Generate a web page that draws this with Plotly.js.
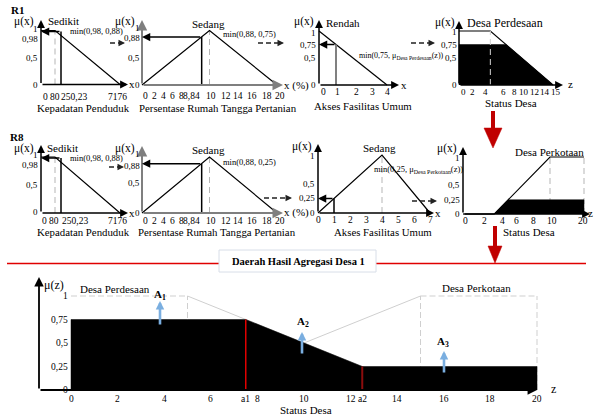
<!DOCTYPE html>
<html>
<head>
<meta charset="utf-8">
<script src="https://cdn.plot.ly/plotly-3.0.1.min.js"></script>
<style>
html,body{margin:0;padding:0;background:#fff;}
#chart{width:594px;height:416px;}
</style>
</head>
<body>
<div id="chart"></div>
<script>
// ======================= DATA =======================
// Kepadatan Penduduk — "Sedikit" (R1 and R8)
const kepTicks = [0, 80, 250.23, 7176];
const kepTickText = ['0', '80', '250,23', '7176'];
const sedikitX = [0, 80, 7176];
const sedikitY = [1, 1, 0];
const kepInput = 250.23;
const kepMu = 0.98;
const kepMuTicks = [0, 0.5, 0.98, 1];
const kepMuText = ['0', '0,5', '0,98', '1'];

// Persentase Rumah Tangga Pertanian — "Sedang" (R1 and R8)
const prtTicks = [0, 2, 4, 6, 8, 8.84, 10, 12, 14, 16, 18, 20];
const prtTickText = ['0', '2', '4', '6', '8', '8,84', '10', '12', '14', '16', '18', '20'];
const sedangPrtX = [0, 10, 20];
const sedangPrtY = [0, 1, 0];
const prtInput = 8.84;
const prtMu = 0.88;
const prtMuTicks = [0, 0.5, 0.88, 1];
const prtMuText = ['0', '0,5', '0,88', '1'];

// Akses Fasilitas Umum — R1 "Rendah"
const aksesR1Ticks = [0, 1, 2, 3, 4];
const rendahX = [0, 4];
const rendahY = [1, 0];
const aksesInput = 1;
const rendahMu = 0.75;
const rendahMuTicks = [0, 0.5, 0.75, 1];
const rendahMuText = ['0', '0,5', '0,75', '1'];

// Akses Fasilitas Umum — R8 "Sedang"
const aksesR8Ticks = [0, 1, 2, 3, 4, 5, 6, 7];
const sedangAksesX = [0, 4, 7];
const sedangAksesY = [0, 1, 0];
const sedangAksesMu = 0.25;
const sedangMuTicks = [0, 0.25, 0.5, 1];
const sedangMuText = ['0', '0,25', '0,5', '1'];

// Status Desa — R1 output "Desa Perdesaan"
const statusR1Ticks = [0, 2, 4, 6, 8, 10, 12, 14, 15];
const perdesaanX = [0, 5, 15];
const perdesaanY = [1, 1, 0];
const alphaR1 = 0.75;
const perdesaanMuTicks = [0, 0.5, 0.75, 1];
const perdesaanMuText = ['0', '0,5', '0,75', '1'];

// Status Desa — R8 output "Desa Perkotaan"
const statusR8Ticks = [0, 2, 4, 6, 8, 10, 20];
const perkotaanX = [0, 3.6, 10, 20];
const perkotaanY = [0, 0, 1, 1];
const alphaR8 = 0.25;
const perkotaanMuTicks = [0, 0.25, 0.5, 1];
const perkotaanMuText = ['0', '0,25', '0,5', '1'];

// Daerah Hasil Agregasi Desa 1
const aggPerdesaanX = [0, 5, 15, 20];
const aggPerdesaanY = [1, 1, 0, 0];
const aggPerkotaanX = [0, 5, 15, 20];
const aggPerkotaanY = [0, 0, 1, 1];
const aggTicks = [0, 2, 4, 6, 8, 10, 12, 14, 16, 18, 20];
const aggMuTicks = [0, 0.25, 0.5, 0.75, 1];
const aggMuText = ['0', '0,25', '0,5', '0,75', '1'];

// ======================= HELPERS =======================
const W = 594, H = 416;
const FONT = 'Liberation Serif, Times New Roman, Times, serif';
const traces = [], ann = [], shapes = [];
const layout = {
  width: W, height: H, autosize: false,
  margin: {l: 0, r: 0, t: 0, b: 0, pad: 0},
  paper_bgcolor: '#fff', plot_bgcolor: 'rgba(0,0,0,0)',
  showlegend: false, font: {family: FONT, color: '#000'}
};

// schematic (piecewise) axis used where the original drawing is not to scale
function pwScale(knots, slots) {
  return v => {
    for (let i = 0; i < knots.length - 1; i++) {
      if (v <= knots[i + 1] || i === knots.length - 2) {
        const t = (v - knots[i]) / (knots[i + 1] - knots[i]);
        return slots[i] + t * (slots[i + 1] - slots[i]);
      }
    }
  };
}
function pl(xs, ys, z) {
  if (z <= xs[0]) return ys[0];
  for (let i = 0; i < xs.length - 1; i++)
    if (z <= xs[i + 1]) return ys[i] + (z - xs[i]) / (xs[i + 1] - xs[i]) * (ys[i + 1] - ys[i]);
  return ys[ys.length - 1];
}
function crossings(xs, ys, a) {
  const out = [];
  for (let i = 0; i < xs.length - 1; i++) {
    const d0 = ys[i] - a, d1 = ys[i + 1] - a;
    if ((d0 < 0 && d1 > 0) || (d0 > 0 && d1 < 0)) out.push(xs[i] + d0 / (d0 - d1) * (xs[i + 1] - xs[i]));
  }
  return out;
}
// region of max_i min(f_i, alpha_i)
function aggregate(fns, z0, z1) {
  let c = [z0, z1];
  fns.forEach(f => { c = c.concat(f.xs, crossings(f.xs, f.ys, f.a)); });
  c = [...new Set(c.filter(z => z >= z0 && z <= z1))].sort((a, b) => a - b);
  const h = (f, z) => Math.min(pl(f.xs, f.ys, z), f.a);
  const extra = [];
  for (let k = 0; k < c.length - 1; k++)
    for (let i = 0; i < fns.length; i++)
      for (let j = i + 1; j < fns.length; j++) {
        const d0 = h(fns[i], c[k]) - h(fns[j], c[k]);
        const d1 = h(fns[i], c[k + 1]) - h(fns[j], c[k + 1]);
        if ((d0 < 0 && d1 > 0) || (d0 > 0 && d1 < 0)) extra.push(c[k] + d0 / (d0 - d1) * (c[k + 1] - c[k]));
      }
  c = c.concat(extra).sort((a, b) => a - b);
  const g = z => Math.max(...fns.map(f => h(f, z)));
  return {x: [z0, ...c, z1], y: [0, ...c.map(g), 0], g};
}

const panels = [];
function arrow(p, xh, yh, xt, yt, o = {}) {
  ann.push({xref: p.xa, yref: p.ya, axref: p.xa, ayref: p.ya, x: xh, y: yh, ax: xt, ay: yt,
    text: '', showarrow: true, arrowhead: 2, arrowsize: o.size || 1, arrowwidth: o.width || 1.5,
    arrowcolor: o.color || '#000', standoff: 0});
}
function panel(o) {
  const i = panels.length + 1;
  const suf = i === 1 ? '' : String(i);
  o.xa = 'x' + suf; o.ya = 'y' + suf;
  o.sx = o.sx || (v => v);
  o.X = px => (px - o.ox) / o.kx;
  o.Y = py => (o.oy - py) / o.ky;
  const [bx0, bx1, by0, by1] = o.box;
  layout['xaxis' + suf] = {domain: [bx0 / W, bx1 / W], range: [o.X(bx0), o.X(bx1)], visible: false, fixedrange: true};
  layout['yaxis' + suf] = {domain: [1 - by1 / H, 1 - by0 / H], range: [o.Y(by1), o.Y(by0)], visible: false, fixedrange: true};
  panels.push(o);
  const ax0 = o.yAxisPx !== undefined ? o.X(o.yAxisPx) : 0;
  const col = o.axisColor || '#000', aw = o.axisW || 1.5;
  arrow(o, o.X(o.xEnd), 0, ax0, 0, {color: col, width: aw, size: 1.05});
  arrow(o, ax0, o.Y(o.yTop), ax0, 0, {color: col, width: aw, size: 1.05});
  return o;
}
function line(p, xs, ys, o = {}) {
  traces.push({type: 'scatter', mode: 'lines', x: xs.map(p.sx), y: ys, xaxis: p.xa, yaxis: p.ya,
    line: {color: o.color || '#000', width: o.width || 1.2, dash: o.dash || 'solid'},
    hoverinfo: 'skip', showlegend: false});
}
function area(p, poly) {
  traces.push({type: 'scatter', mode: 'lines', x: poly.x.map(p.sx), y: poly.y, xaxis: p.xa, yaxis: p.ya,
    fill: 'toself', fillcolor: '#000', line: {color: '#000', width: 0.5},
    hoverinfo: 'skip', showlegend: false});
}
function xTickLabels(p, vals, texts, ypx, shifts, size) {
  vals.forEach((v, i) => ann.push({xref: p.xa, yref: p.ya, x: p.sx(v), y: 0,
    xshift: shifts ? shifts[i] : 0, yshift: -(ypx - p.oy), text: texts[i], showarrow: false,
    font: {family: FONT, size: size || 9.5, color: '#000'}, xanchor: 'center', yanchor: 'middle', borderpad: 0}));
}
function yTickLabels(p, vals, texts, rightPx, yshifts, size) {
  vals.forEach((v, i) => ann.push({xref: p.xa, yref: p.ya, x: 0, y: v,
    xshift: rightPx - p.ox, yshift: yshifts ? yshifts[i] : 0, text: texts[i], showarrow: false,
    font: {family: FONT, size: size || 9, color: '#000'}, xanchor: 'right', yanchor: 'middle', borderpad: 0}));
}
function T(t, x, y, size, extra) {
  ann.push(Object.assign({xref: 'paper', yref: 'paper', x: x / W, y: 1 - y / H, text: t, showarrow: false,
    font: {family: FONT, size: size, color: '#000'}, xanchor: 'center', yanchor: 'middle', borderpad: 0}, extra || {}));
}
const P = (x, y) => [x / W, 1 - y / H];
function dashedArrow(x0, x1, y) {
  const a = P(x0, y), b = P(x1 - 4, y);
  shapes.push({type: 'line', xref: 'paper', yref: 'paper', x0: a[0], y0: a[1], x1: b[0], y1: b[1],
    line: {color: '#222', width: 1.3, dash: '5px,3px'}});
  ann.push({xref: 'paper', yref: 'paper', x: x1 / W, y: 1 - y / H, ax: -6, ay: 0, text: '', showarrow: true,
    arrowhead: 2, arrowsize: 1, arrowwidth: 1.3, arrowcolor: '#222', standoff: 0});
}
function redArrow(x, yTop, yHeadBase, yTip, halfW) {
  const a = P(x, yTop), b = P(x, yHeadBase + 1);
  shapes.push({type: 'line', xref: 'paper', yref: 'paper', x0: a[0], y0: a[1], x1: b[0], y1: b[1],
    line: {color: '#c00000', width: 4}});
  const l = P(x - halfW, yHeadBase), r = P(x + halfW, yHeadBase), t = P(x, yTip);
  shapes.push({type: 'path', xref: 'paper', yref: 'paper',
    path: `M${l[0]},${l[1]} L${r[0]},${r[1]} L${t[0]},${t[1]} Z`,
    fillcolor: '#c00000', line: {color: '#c00000', width: 0.5}});
}
const DASH_GRAY = '#b5b5b5';

// ======================= PANELS =======================
const kepScale = pwScale(kepTicks, [0, 14, 20, 79]);
const perkScale = pwScale([0, 10, 20], [0, 87, 121]);

// ---- R1 ----
const p1 = panel({ox: 41, oy: 84.5, kx: 1, ky: 54, box: [28, 137, 12, 100], xEnd: 128, yTop: 20, sx: kepScale});
line(p1, [sedikitX[1], sedikitX[1]], [0, sedikitY[1]], {color: DASH_GRAY, dash: '6px,4px', width: 1});
line(p1, sedikitX, sedikitY);
line(p1, [kepInput, kepInput], [0, kepMu], {width: 1.5});
arrow(p1, p1.sx(0), kepMu, p1.sx(kepInput), kepMu, {size: 1.1});
yTickLabels(p1, kepMuTicks, kepMuText, 38.5, [0, 0, -7, 2]);
xTickLabels(p1, kepTicks, kepTickText, 97, [4, 0, 13, -3]);

const p2 = panel({ox: 142, oy: 85, kx: 6.75, ky: 54.5, box: [128, 292, 12, 100], xEnd: 283, yTop: 20, axisColor: '#7f7f7f', axisW: 2});
line(p2, [sedangPrtX[1], sedangPrtX[1]], [0, sedangPrtY[1]], {color: DASH_GRAY, dash: '6px,4px', width: 1});
line(p2, sedangPrtX, sedangPrtY);
line(p2, [prtInput, prtInput], [0, prtMu], {width: 1.5});
arrow(p2, 0, prtMu, prtInput, prtMu, {size: 1.1});
yTickLabels(p2, prtMuTicks, prtMuText, 141, [0, 0, -1, 2.5]);
xTickLabels(p2, prtTicks, prtTickText, 96, [3.5, -1, -5.5, -10, -15, -9.7, 1.5, 2.5, 1.5, 2, 3, 2.5]);

const p3 = panel({ox: 319, oy: 85, kx: 17, ky: 54, box: [305, 410, 12, 100], xEnd: 399, yTop: 20});
line(p3, rendahX, rendahY);
line(p3, [aksesInput, aksesInput], [0, rendahMu], {color: '#808080', width: 2});
arrow(p3, 0, rendahMu, aksesInput, rendahMu, {size: 1.1});
yTickLabels(p3, rendahMuTicks, rendahMuText, 317, [0, 0, 0, -1.5]);
xTickLabels(p3, aksesR1Ticks, aksesR1Ticks.map(String), 92, [4, 1, 3, 2, 0]);

const p4 = panel({ox: 459, oy: 85, kx: 6.27, ky: 54, box: [445, 575, 12, 100], xEnd: 563, yTop: 21});
area(p4, aggregate([{xs: perdesaanX, ys: perdesaanY, a: alphaR1}], perdesaanX[0], perdesaanX[perdesaanX.length - 1]));
line(p4, perdesaanX, perdesaanY);
line(p4, [perdesaanX[1], perdesaanX[1]], [0, perdesaanY[1]], {color: '#d0d0d0', dash: '6px,4px', width: 1});
yTickLabels(p4, perdesaanMuTicks, perdesaanMuText, 457.5, [0, 0, 0, -0.5]);
xTickLabels(p4, statusR1Ticks, statusR1Ticks.map(String), 92, [4, 0.5, 1, 6.4, 5.8, 2.3, -0.2, -1.8, 3], 9);

// ---- R8 ----
const p5 = panel({ox: 41, oy: 213, kx: 1, ky: 56, box: [28, 137, 138, 228], xEnd: 128, yTop: 145, sx: kepScale});
line(p5, [sedikitX[1], sedikitX[1]], [0, sedikitY[1]], {color: DASH_GRAY, dash: '6px,4px', width: 1});
line(p5, sedikitX, sedikitY);
line(p5, [kepInput, kepInput], [0, kepMu], {width: 1.5});
arrow(p5, p5.sx(0), kepMu, p5.sx(kepInput), kepMu, {size: 1.1});
yTickLabels(p5, kepMuTicks, kepMuText, 38.5, [1, 0, -7, 2]);
xTickLabels(p5, kepTicks, kepTickText, 221, [3, -1, 14, -3]);

const p6 = panel({ox: 142, oy: 213, kx: 6.75, ky: 56, box: [128, 292, 138, 228], xEnd: 283, yTop: 146, axisColor: '#7f7f7f', axisW: 2});
line(p6, [sedangPrtX[1], sedangPrtX[1]], [0, sedangPrtY[1]], {color: DASH_GRAY, dash: '6px,4px', width: 1});
line(p6, sedangPrtX, sedangPrtY);
line(p6, [prtInput, prtInput], [0, prtMu], {width: 1.5});
arrow(p6, 0, prtMu, prtInput, prtMu, {size: 1.1});
yTickLabels(p6, prtMuTicks, prtMuText, 141, [0, 2, -2.5, 3]);
xTickLabels(p6, prtTicks, prtTickText, 221, [3.5, -1, -5.5, -10, -15, -9.7, 1.5, 2.5, 1.5, 2, 3, 2.5]);

const p7 = panel({ox: 318, oy: 213, kx: 16, ky: 58, box: [305, 442, 138, 228], xEnd: 434, yTop: 144});
line(p7, [sedangAksesX[1], sedangAksesX[1]], [0, sedangAksesY[1]], {color: DASH_GRAY, dash: '6px,4px', width: 1});
line(p7, sedangAksesX, sedangAksesY);
line(p7, [aksesInput, aksesInput], [0, sedangAksesMu], {width: 1.5});
arrow(p7, 0, sedangAksesMu, aksesInput, sedangAksesMu, {size: 1.1});
yTickLabels(p7, sedangMuTicks, sedangMuText, 316, [0, 0, 0, -1.5]);
xTickLabels(p7, aksesR8Ticks, aksesR8Ticks.map(String), 220, null);

const p8 = panel({ox: 463, oy: 214, kx: 1, ky: 57, box: [450, 593, 138, 228], xEnd: 590, yTop: 147, sx: perkScale});
perkotaanX.forEach((x, i) => { if (perkotaanY[i] === 1) line(p8, [x, x], [0, 1], {color: DASH_GRAY, dash: '6px,4px', width: 1}); });
area(p8, aggregate([{xs: perkotaanX, ys: perkotaanY, a: alphaR8}], perkotaanX[0], perkotaanX[perkotaanX.length - 1]));
line(p8, perkotaanX, perkotaanY);
yTickLabels(p8, perkotaanMuTicks, perkotaanMuText, 461, [0, 0, 0, -1]);
xTickLabels(p8, statusR8Ticks, statusR8Ticks.map(String), 221, [2, 3.6, 4.2, 0.8, 0.4, 2, -1]);

// ---- Aggregation ----
const pa = panel({ox: 71, oy: 390, kx: 23.3, ky: 94, box: [30, 562, 272, 400], yAxisPx: 39, xEnd: 537, yTop: 277, axisW: 1.8});
function grayMembership(p, xs, ys) {
  for (let i = 0; i < xs.length - 1; i++) {
    if (ys[i] === 0 && ys[i + 1] === 0) continue;
    const core = ys[i] === 1 && ys[i + 1] === 1;
    line(p, [xs[i], xs[i + 1]], [ys[i], ys[i + 1]], {color: '#cfcfcf', dash: core ? '6px,3px' : 'solid', width: 1});
  }
  xs.forEach((x, i) => { if (ys[i] === 1 && x > xs[0]) line(p, [x, x], [0, 1], {color: '#cfcfcf', dash: '6px,3px', width: 1}); });
}
grayMembership(pa, aggPerdesaanX, aggPerdesaanY);
grayMembership(pa, aggPerkotaanX, aggPerkotaanY);
const agg = aggregate([
  {xs: aggPerdesaanX, ys: aggPerdesaanY, a: alphaR1},
  {xs: aggPerkotaanX, ys: aggPerkotaanY, a: alphaR8}
], 0, 20);
area(pa, agg);
const a1 = crossings(aggPerdesaanX, aggPerdesaanY, alphaR1)[0];
const a2 = crossings(aggPerdesaanX, aggPerdesaanY, alphaR8)[0];
line(pa, [a1, a1], [0, agg.g(a1)], {color: '#e00000', width: 1.5});
line(pa, [a2, a2], [0, agg.g(a2)], {color: '#8b0d0d', width: 2});
const aggTickVals = [...aggTicks, a1, a2].sort((a, b) => a - b);
const aggTickText = aggTickVals.map(v => v === a1 ? 'a1' : v === a2 ? 'a2' : String(v));
xTickLabels(pa, aggTickVals, aggTickText, 399, null, 9.5);
yTickLabels(pa, aggMuTicks, aggMuText, 68.5, null, 9.5);

// ======================= TEXT =======================
T('<b>R1</b>', 17, 10.5, 11);
T('μ(x)', 24, 21, 11.5); T('Sedikit', 63, 21.5, 11); T('min(0,98, 0,88)', 96, 31, 8.5);
T('x', 131.5, 84, 11); T('Kepadatan Penduduk', 83, 108, 10.8);
T('μ(x)', 125, 21, 11.5); T('Sedang', 208, 24, 11); T('min(0,88, 0,75)', 249, 34, 8.5);
T('x (%)', 296, 85, 11); T('Persentase Rumah Tangga Pertanian', 218, 108, 10.8);
T('μ(x)', 304, 21, 11.5); T('Rendah', 343, 23, 11);
T('min(0,75, μ<sub>Desa Perdesaan</sub>(z))', 358, 56, 8, {xanchor: 'left'});
T('x', 404, 85, 11); T('Akses Fasilitas Umum', 363, 106, 10.8);
T('μ(x)', 445, 22, 11.5); T('Desa Perdesaan', 505, 23, 12); T('z', 570, 84, 11); T('Status Desa', 511, 102.5, 11);

T('<b>R8</b>', 17, 137, 11);
T('μ(x)', 24, 149, 11.5); T('Sedikit', 62, 147.5, 11); T('min(0,98, 0,88)', 96, 158, 8.5);
T('x', 131.5, 213, 11); T('Kepadatan Penduduk', 83, 232, 10.8);
T('μ(x)', 125, 148, 11.5); T('Sedang', 208, 150, 11); T('min(0,88, 0,25)', 249, 162, 8.5);
T('x (%)', 296, 213, 11); T('Persentase Rumah Tangga Pertanian', 217, 232, 10.8);
T('μ(x)', 302, 146, 11.5); T('Sedang', 379, 147.5, 11);
T('min(0,25, μ<sub>Desa Perkotaan</sub>(z))', 373, 169, 8.5, {xanchor: 'left'});
T('x', 438, 213, 11); T('Akses Fasilitas Umum', 383, 232, 10.8);
T('μ(x)', 447, 148.5, 11.5); T('Desa Perkotaan', 549, 152, 11); T('z', 594, 213, 11, {xanchor: 'right'});
T('Status Desa', 529, 232, 11);

T('μ(z)', 54, 285, 12); T('Desa Perdesaan', 115, 289, 11); T('Desa Perkotaan', 476, 288, 11);
T('z', 553, 389, 12); T('Status Desa', 306, 410, 11);
T('<b>A<sub>1</sub></b>', 160, 295, 11); T('<b>A<sub>2</sub></b>', 303, 322, 11); T('<b>A<sub>3</sub></b>', 443, 342, 11);
[[160, 301, 25], [302, 332, 23], [444, 351, 23]].forEach(([x, y, len]) => ann.push({
  xref: 'paper', yref: 'paper', x: x / W, y: 1 - y / H, ax: 0, ay: len, text: '', showarrow: true,
  arrowhead: 2, arrowsize: 0.65, arrowwidth: 2.6, arrowcolor: '#7aaee0', standoff: 0}));

// ======================= DECORATION =======================
dashedArrow(110, 125, 43); dashedArrow(258, 284, 43); dashedArrow(411, 435, 43);
dashedArrow(109, 124, 167); dashedArrow(264, 292, 198); dashedArrow(412, 437, 201);
redArrow(493, 111, 128, 148, 9);
redArrow(495, 226, 246, 263, 7);
{
  const a = P(7, 263.5), b = P(586, 263.5);
  shapes.push({type: 'line', xref: 'paper', yref: 'paper', x0: a[0], y0: a[1], x1: b[0], y1: b[1], line: {color: '#e00000', width: 1.5}});
  const r0 = P(219, 272), r1 = P(376, 250);
  shapes.push({type: 'rect', xref: 'paper', yref: 'paper', x0: r0[0], y0: r0[1], x1: r1[0], y1: r1[1],
    fillcolor: '#fff', line: {color: '#d8dee8', width: 1}});
}
T('<b>Daerah Hasil Agregasi Desa 1</b>', 298, 261, 10.5);

layout.annotations = ann;
layout.shapes = shapes;
Plotly.newPlot('chart', traces, layout, {staticPlot: true, displayModeBar: false});
</script>
</body>
</html>
